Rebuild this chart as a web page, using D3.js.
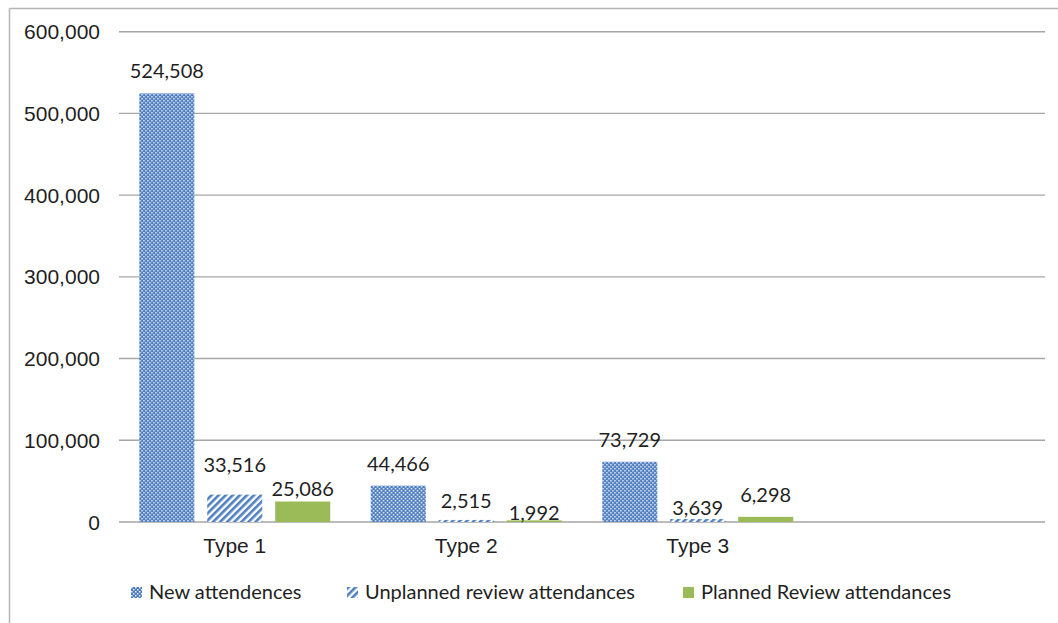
<html>
<head>
<style>
body { margin: 0; background: #fff; }
.axis-label { font-family: "Liberation Sans", Arial, sans-serif; font-size: 21px; fill: #1f1f1f; }
.data-label { font-family: Lato, "Open Sans", sans-serif; font-size: 20px; fill: #1f1f1f; }
.legend-text { font-family: Lato, "Open Sans", sans-serif; font-size: 20px; fill: #1f1f1f; }
</style>
</head>
<body>
<div class="chart"></div>
<script src="https://d3js.org/d3.v7.min.js"></script>
<script>
// data
var categories = ["Type 1", "Type 2", "Type 3", ""];
var seriesNames = ["New attendences", "Unplanned review attendances", "Planned Review attendances"];
var newAtt = [524508, 44466, 73729, null];
var unplannedAtt = [33516, 2515, 3639, null];
var plannedAtt = [25086, 1992, 6298, null];
var yTicks = [0, 100000, 200000, 300000, 400000, 500000, 600000];

// manual label nudges (px, + moves down), like in the original sheet
var labelNudge = [[0, 0, 0], [-8, 3, 11], [9, 15, 0]];

var W = 1058, H = 623;
var plot = {left: 119, right: 1045, top: 31.7, bottom: 522};

var svg = d3.select(".chart").append("svg")
    .attr("width", W)
    .attr("height", H);

var defs = svg.append("defs");

// dotted fill
var dots = defs.append("pattern")
    .attr("id", "dots")
    .attr("patternUnits", "userSpaceOnUse")
    .attr("width", 4).attr("height", 4);
dots.append("rect").attr("width", 4).attr("height", 4).attr("fill", "#4F7FC0");
dots.append("rect").attr("x", 0).attr("y", 0).attr("width", 1.5).attr("height", 1.5).attr("fill", "#e6edf7");
dots.append("rect").attr("x", 2).attr("y", 2).attr("width", 1.5).attr("height", 1.5).attr("fill", "#e6edf7");

// wide upward diagonal
var stripes = defs.append("pattern")
    .attr("id", "stripes")
    .attr("patternUnits", "userSpaceOnUse")
    .attr("width", 5).attr("height", 5)
    .attr("patternTransform", "rotate(45)");
stripes.append("rect").attr("width", 5).attr("height", 5).attr("fill", "#ffffff");
stripes.append("rect").attr("width", 2.6).attr("height", 5).attr("fill", "#4F7FC0");

var fills = ["url(#dots)", "url(#stripes)", "#9BBB59"];
var seriesValues = [newAtt, unplannedAtt, plannedAtt];

// frame (top and left edges only are visible)
svg.append("line").attr("x1", 9.5).attr("x2", W).attr("y1", 8.5).attr("y2", 8.5)
    .attr("stroke", "#b4b4b4").attr("stroke-width", 1.5);
svg.append("line").attr("x1", 9.5).attr("x2", 9.5).attr("y1", 8.5).attr("y2", H)
    .attr("stroke", "#b4b4b4").attr("stroke-width", 1.5);

var y = d3.scaleLinear().domain([0, 600000]).range([plot.bottom, plot.top]);

var x0 = d3.scaleBand().domain(categories.map(function(d, i){ return i; }))
    .range([plot.left, plot.right])
    .paddingInner(0.175).paddingOuter(0.0875);

var x1 = d3.scaleBand().domain([0, 1, 2])
    .range([0, x0.bandwidth()])
    .paddingInner(0.19).paddingOuter(0);

// gridlines
svg.append("g").selectAll("line")
    .data(yTicks)
  .enter().append("line")
    .attr("x1", plot.left).attr("x2", plot.right)
    .attr("y1", function(d){ return y(d); })
    .attr("y2", function(d){ return y(d); })
    .attr("stroke", "#a6a6a6").attr("stroke-width", 1.4);

// y labels
var fmt = d3.format(",");
svg.append("g").selectAll("text")
    .data(yTicks)
  .enter().append("text")
    .attr("class", "axis-label")
    .attr("x", 100)
    .attr("y", function(d){ return y(d); })
    .attr("dy", "0.36em")
    .attr("text-anchor", "end")
    .text(function(d){ return fmt(d); });

// bars
var groups = svg.append("g").selectAll("g")
    .data(categories.map(function(c, i){ return i; }))
  .enter().append("g")
    .attr("transform", function(i){ return "translate(" + x0(i) + ",0)"; });

groups.selectAll("rect")
    .data(function(i){
      return seriesValues.map(function(s, k){ return {k: k, i: i, v: s[i]}; })
        .filter(function(d){ return d.v != null; });
    })
  .enter().append("rect")
    .attr("x", function(d){ return x1(d.k); })
    .attr("width", x1.bandwidth())
    .attr("y", function(d){ return y(d.v); })
    .attr("height", function(d){ return y(0) - y(d.v); })
    .attr("fill", function(d){ return fills[d.k]; });

groups.selectAll("text.data-label")
    .data(function(i){
      return seriesValues.map(function(s, k){ return {k: k, i: i, v: s[i]}; })
        .filter(function(d){ return d.v != null; });
    })
  .enter().append("text")
    .attr("class", "data-label")
    .attr("x", function(d){ return x1(d.k) + x1.bandwidth() / 2; })
    .attr("y", function(d){ return y(d.v) - 15 + labelNudge[d.k][d.i]; })
    .attr("text-anchor", "middle")
    .text(function(d){ return fmt(d.v); });

// category labels
svg.append("g").selectAll("text")
    .data(categories)
  .enter().append("text")
    .attr("class", "axis-label")
    .attr("x", function(d, i){ return x0(i) + x0.bandwidth() / 2; })
    .attr("y", 553)
    .attr("text-anchor", "middle")
    .text(function(d){ return d; });

// legend
var legendX = [131, 347, 683];
var legend = svg.append("g").selectAll("g")
    .data(seriesNames)
  .enter().append("g")
    .attr("transform", function(d, i){ return "translate(" + legendX[i] + ",587)"; });

legend.append("rect")
    .attr("width", 11).attr("height", 11)
    .attr("fill", function(d, i){ return fills[i]; });

legend.append("text")
    .attr("class", "legend-text")
    .attr("x", 18)
    .attr("y", 12)
    .text(function(d){ return d; });
</script>
</body>
</html>
